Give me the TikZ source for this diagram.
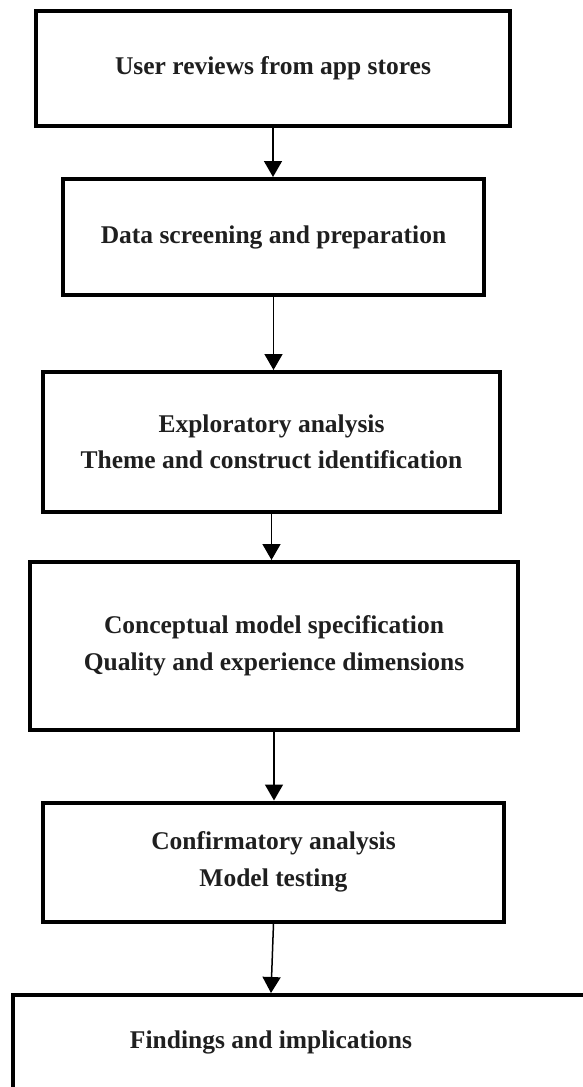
\documentclass[tikz,border=0pt]{standalone}
\usepackage{fontspec}
\setmainfont{Liberation Serif}
\usetikzlibrary{arrows.meta}
\begin{document}
\begin{tikzpicture}[x=1pt,y=-1pt,
  boxfont/.style={font=\fontsize{25.5}{36.5}\selectfont\bfseries, text=black!88},
  stepbox/.style={draw=black, line width=4pt, fill=white, inner sep=0pt, align=center, boxfont},
  flow/.style={-{Triangle[length=16pt,width=18pt]}, line width=1.5pt, black}]
\useasboundingbox (0,0) rectangle (583,1087);
\node[stepbox, minimum width=474pt, minimum height=115pt] (b1) at (273,68.5) {User reviews from app stores};
\node[stepbox, minimum width=421pt, minimum height=116pt] (b2) at (273.5,237) {Data screening and preparation};
\node[stepbox, minimum width=457pt, minimum height=140pt] (b3) at (271.5,442) {Exploratory analysis\\Theme and construct identification};
\node[stepbox, minimum width=488pt, minimum height=168pt] (b4) at (274,646) {Conceptual model specification\\Quality and experience dimensions};
\node[stepbox, minimum width=461pt, minimum height=119pt] (b5) at (273.5,862) {Confirmatory analysis\\Model testing};
\node[stepbox, minimum width=590pt, minimum height=120pt] (b6) at (308,1055) {};
\node[boxfont, inner sep=0pt] (t6) at (271,1042) {Findings and implications};
\draw[flow] (b1.south) -- (b1.south |- b2.north);
\draw[flow] (b2.south) -- (b2.south |- b3.north);
\draw[flow] (b3.south) -- (b3.south |- b4.north);
\draw[flow] (b4.south) -- (b4.south |- b5.north);
\draw[flow] (b5.south) -- (t6.north |- b6.north);
\end{tikzpicture}
\end{document}
